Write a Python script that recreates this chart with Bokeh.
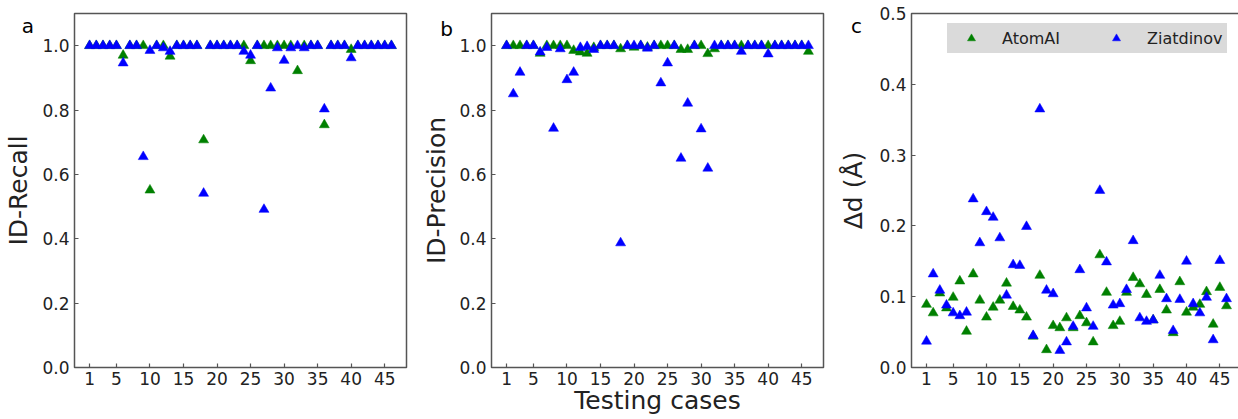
from bokeh.plotting import figure
from bokeh.layouts import row
from bokeh.models import Range1d, FixedTicker, PrintfTickFormatter, Label
from bokeh.embed import file_html
from bokeh.resources import INLINE

# ---------------- data ----------------
cases = list(range(1, 47))

recall_atomai = [1.0, 1.0, 1.0, 1.0, 1.0, 0.970, 1.0, 1.0, 1.0, 0.551,
                 1.0, 1.0, 0.967, 1.0, 1.0, 1.0, 1.0, 0.707, 1.0, 1.0,
                 1.0, 1.0, 1.0, 1.0, 0.953, 1.0, 1.0, 1.0, 1.0, 1.0,
                 1.0, 0.922, 1.0, 1.0, 1.0, 0.754, 1.0, 1.0, 1.0, 0.988,
                 1.0, 1.0, 1.0, 1.0, 1.0, 1.0]
recall_ziatdinov = [1.0, 1.0, 1.0, 1.0, 1.0, 0.946, 1.0, 1.0, 0.655, 0.985,
                    1.0, 0.993, 0.982, 1.0, 1.0, 1.0, 1.0, 0.541, 1.0, 1.0,
                    1.0, 1.0, 1.0, 0.982, 0.970, 1.0, 0.491, 0.868, 0.993, 0.954,
                    0.993, 1.0, 0.993, 1.0, 1.0, 0.803, 1.0, 1.0, 1.0, 0.962,
                    1.0, 1.0, 1.0, 1.0, 1.0, 1.0]

precision_atomai = [1.0, 1.0, 1.0, 1.0, 1.0, 0.976, 1.0, 1.0, 1.0, 1.0,
                    0.985, 0.980, 0.976, 0.994, 1.0, 1.0, 1.0, 0.990, 1.0, 0.995,
                    1.0, 0.995, 1.0, 1.0, 1.0, 1.0, 0.988, 0.988, 1.0, 1.0,
                    0.975, 0.990, 1.0, 1.0, 1.0, 1.0, 1.0, 1.0, 1.0, 1.0,
                    1.0, 1.0, 1.0, 1.0, 1.0, 0.982]
precision_ziatdinov = [1.0, 0.850, 0.917, 1.0, 1.0, 0.980, 0.994, 0.743, 0.990, 0.894,
                       0.917, 0.994, 0.997, 0.988, 1.0, 1.0, 1.0, 0.387, 1.0, 1.0,
                       1.0, 0.992, 1.0, 0.884, 0.946, 1.0, 0.650, 0.821, 1.0, 0.741,
                       0.619, 1.0, 1.0, 1.0, 1.0, 0.982, 1.0, 1.0, 1.0, 0.974,
                       1.0, 1.0, 1.0, 1.0, 1.0, 1.0]

dd_atomai = [0.089, 0.077, 0.105, 0.084, 0.099, 0.122, 0.051, 0.132, 0.095, 0.071,
             0.085, 0.095, 0.119, 0.086, 0.081, 0.071, 0.044, 0.130, 0.025, 0.059,
             0.056, 0.070, 0.056, 0.073, 0.063, 0.036, 0.159, 0.106, 0.059, 0.065,
             0.106, 0.127, 0.118, 0.103, 0.067, 0.110, 0.081, 0.049, 0.121, 0.078,
             0.085, 0.089, 0.107, 0.061, 0.113, 0.087]
dd_ziatdinov = [0.037, 0.132, 0.109, 0.088, 0.077, 0.073, 0.078, 0.238, 0.176, 0.220,
                0.212, 0.183, 0.102, 0.145, 0.144, 0.199, 0.045, 0.365, 0.109, 0.104,
                0.024, 0.036, 0.058, 0.138, 0.084, 0.058, 0.250, 0.149, 0.088, 0.090,
                0.110, 0.179, 0.070, 0.065, 0.067, 0.130, 0.097, 0.052, 0.096, 0.150,
                0.090, 0.077, 0.099, 0.039, 0.151, 0.097]

x_ticks = [1, 5, 10, 15, 20, 25, 30, 35, 40, 45]
y_ticks_id = [0.0, 0.2, 0.4, 0.6, 0.8, 1.0]
y_ticks_dd = [0.0, 0.1, 0.2, 0.3, 0.4, 0.5]

series_names = ["AtomAI", "Ziatdinov"]
panel_letters = ["a", "b", "c"]
y_titles = ["ID-Recall", "ID-Precision", "\u0394d (\u00c5)"]
x_title = "Testing cases"

# ---------------- style ----------------
FONT = "DejaVu Sans"
GREEN = "#008000"
BLUE = "#0000ff"
AX = "#555555"
TXT = "#222222"
FH = 354
TOP = 13


def make(left, right, fw, ymax, yticks, ylab, ylab_standoff):
    p = figure(frame_width=fw, frame_height=FH,
               min_border_left=left, min_border_right=right,
               min_border_top=TOP, min_border_bottom=51,
               x_range=Range1d(-1.25, 48.25), y_range=Range1d(0, ymax),
               output_backend="svg", toolbar_location=None, tools="")
    p.grid.visible = False
    p.outline_line_color = AX
    p.outline_line_width = 1.5
    p.outline_line_alpha = 1.0
    p.background_fill_color = "white"
    p.border_fill_color = "white"
    for ax in (p.xaxis[0], p.yaxis[0]):
        ax.axis_line_color = None
        ax.major_tick_in = 4
        ax.major_tick_out = 0
        ax.major_tick_line_color = AX
        ax.major_tick_line_width = 1.2
        ax.minor_tick_line_color = None
        ax.major_label_text_font = FONT
        ax.major_label_text_font_size = "17px"
        ax.major_label_text_color = TXT
        ax.axis_label_text_font = FONT
        ax.axis_label_text_font_size = "25px"
        ax.axis_label_text_font_style = "normal"
        ax.axis_label_text_color = TXT
    p.xaxis[0].ticker = FixedTicker(ticks=x_ticks)
    p.yaxis[0].ticker = FixedTicker(ticks=yticks)
    p.yaxis[0].formatter = PrintfTickFormatter(format="%.1f")
    p.xaxis[0].major_label_standoff = 4
    p.yaxis[0].major_label_standoff = 5
    p.yaxis[0].axis_label = ylab
    p.yaxis[0].axis_label_standoff = ylab_standoff
    return p


def letter(p, text, side, x, y):
    p.add_layout(Label(x=x, y=y, x_units="screen", y_units="screen", text=text,
                       text_font=FONT, text_font_size="20px", text_color="black",
                       text_align="center", text_baseline="alphabetic"), side)


def pts(p, g, b, legend=False):
    kw_g = dict(legend_label=series_names[0]) if legend else {}
    kw_b = dict(legend_label=series_names[1]) if legend else {}
    p.scatter(cases, g, marker="triangle", size=10, fill_color=GREEN,
              line_color=GREEN, line_width=0.5, **kw_g)
    p.scatter(cases, b, marker="triangle", size=10, fill_color=BLUE,
              line_color=BLUE, line_width=0.5, **kw_b)


pa = make(74, 11, 332, 1.1, y_ticks_id, y_titles[0], 6)
pts(pa, recall_atomai, recall_ziatdinov)
letter(pa, panel_letters[0], "below", -46.5, 386)

pb = make(74, 13, 332, 1.1, y_ticks_id, y_titles[1], 5)
pts(pb, precision_atomai, precision_ziatdinov)
pb.xaxis[0].axis_label = x_title
pb.xaxis[0].axis_label_standoff = -2
letter(pb, panel_letters[1], "right", -377, 339)

pc = make(71, 0, 330, 0.5, y_ticks_dd, y_titles[2], 8)
pts(pc, dd_atomai, dd_ziatdinov, legend=True)
letter(pc, panel_letters[2], "below", -55, 386)

lg = pc.legend[0]
lg.location = (36, 314)
lg.orientation = "horizontal"
lg.glyph_width = 38
lg.glyph_height = 20
lg.label_standoff = 12
lg.spacing = 37
lg.padding = 5
lg.margin = 0
lg.label_text_font = FONT
lg.label_text_font_size = "16px"
lg.label_text_color = TXT
lg.background_fill_color = "#dadada"
lg.background_fill_alpha = 1.0
lg.border_line_color = "#dadada"
lg.border_line_alpha = 0.0

layout = row(pa, pb, pc)
open("out.html", "w").write(file_html(layout, INLINE))
